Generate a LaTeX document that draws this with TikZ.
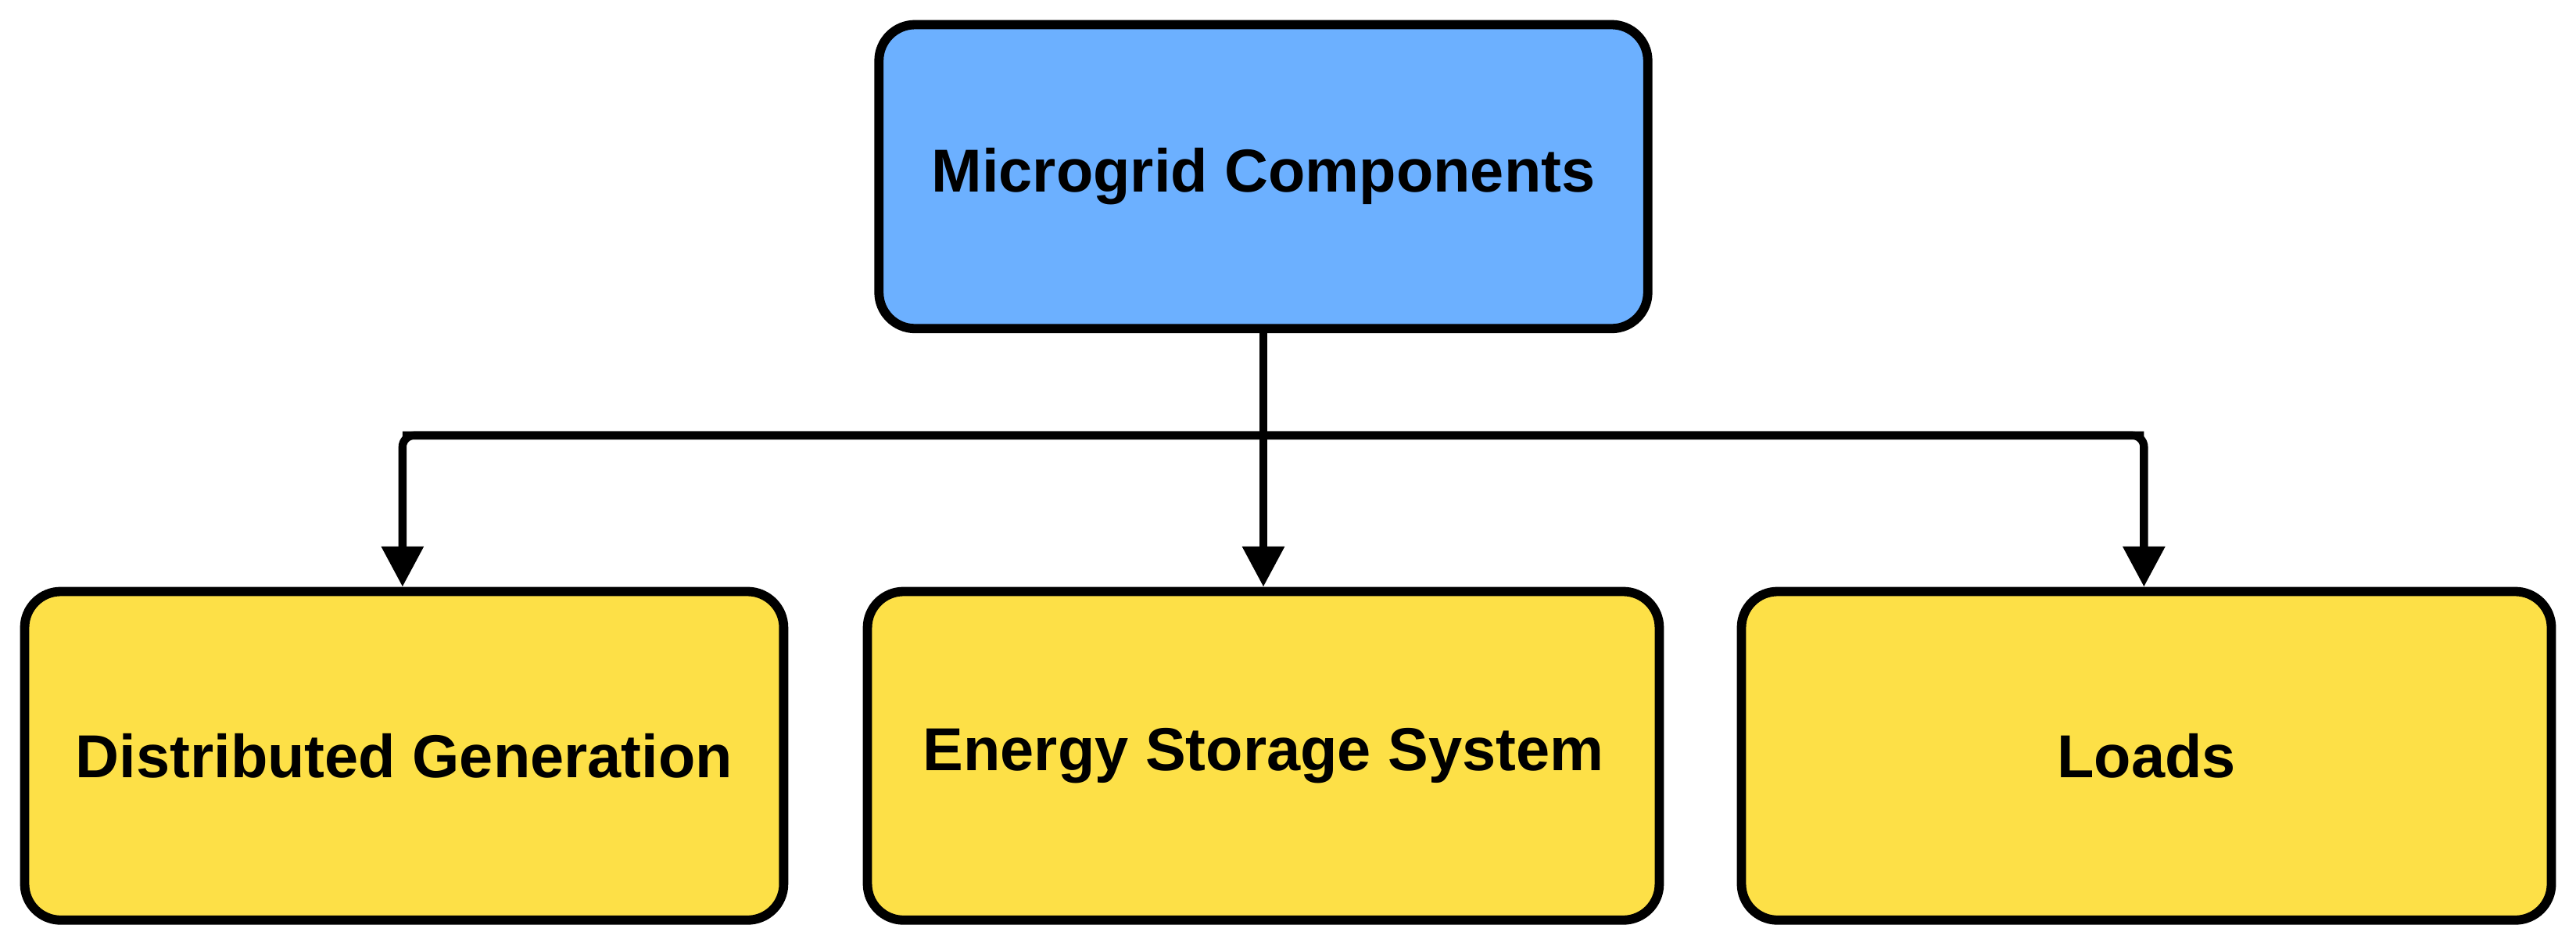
\documentclass[tikz,border=0pt]{standalone}
\usepackage{fontspec}
\setmainfont{Liberation Sans}
\usetikzlibrary{arrows.meta}
\definecolor{topblue}{HTML}{6CB0FF}
\definecolor{boxyellow}{HTML}{FDE047}
\begin{document}
\begin{tikzpicture}[>={Triangle[length=7pt,width=7pt]}, line width=1.4pt,
    every node/.style={draw, rounded corners=0.22cm, line width=1.6pt, font=\fontsize{10.5}{12}\selectfont\bfseries, inner sep=0pt}]
    \useasboundingbox (0,0) rectangle (15.68,-5.78);
    % Nodes
    \node[fill=topblue, minimum width=4.68cm, minimum height=1.85cm] at (7.69, -1.075) (mc) {Microgrid Components};
    \node[fill=boxyellow, minimum width=4.62cm, minimum height=2.0cm] at (2.46, -4.6) (dg) {Distributed Generation};
    \node[fill=boxyellow, minimum width=4.82cm, minimum height=2.0cm] at (7.69, -4.6) (ess) {Energy Storage System};
    \node[fill=boxyellow, minimum width=4.93cm, minimum height=2.0cm] at (13.065, -4.6) (ld) {Loads};

    % Edges
    \coordinate (jl) at (2.45, -2.65);
    \coordinate (jr) at (13.05, -2.65);
    \draw[->] (mc.south) -- (ess.north);
    \draw[->, rounded corners=2pt] (jr) -- (jl) -- (jl |- dg.north);
    \draw[->, rounded corners=2pt] (jl) -- (jr) -- (jr |- ld.north);
\end{tikzpicture}
\end{document}
